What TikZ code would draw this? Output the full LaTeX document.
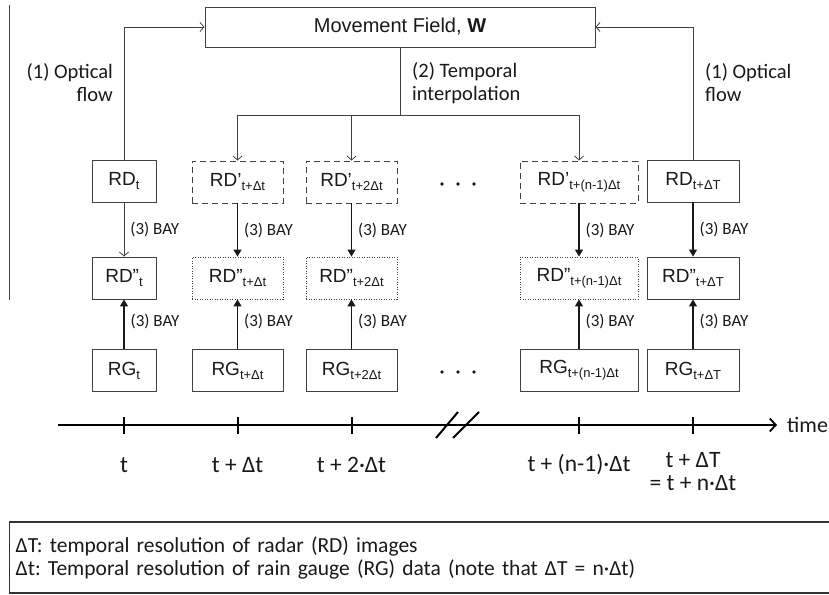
\documentclass[tikz,border=0pt]{standalone}
\usepackage{fontspec}
\setmainfont{Liberation Sans}
\newfontfamily\calib{Carlito}
\usetikzlibrary{arrows.meta}
\newcommand\mysub[1]{\raisebox{-4pt}{\fontsize{13}{13}\selectfont #1}}
\frenchspacing
\begin{document}
\begin{tikzpicture}[x=1pt,y=-1pt,
  box/.style={draw=black!75, line width=0.9pt, minimum height=42pt, inner sep=0pt, font=\fontsize{19}{19}\selectfont, text=black!90},
  dbox/.style={box, dash pattern=on 6pt off 4pt},
  obox/.style={box, line width=0.8pt, dash pattern=on 1pt off 1.5pt},
  thinarr/.style={draw=black!75, line width=0.8pt, -{Straight Barb[length=4pt,width=9pt]}},
  bayarr/.style={draw=black!90, line width=1.3pt, -{Triangle[length=7pt,width=8pt]}},
  lab/.style={font=\calib\fontsize{20.5}{23}\selectfont, text=black!90, inner sep=0pt},
  bay/.style={font=\calib\fontsize{17}{17}\selectfont, text=black!90, inner sep=0pt, right, xshift=6pt},
  tlab/.style={font=\calib\fontsize{23.5}{23}\selectfont, text=black!90, inner sep=0pt, align=center},
  dot/.style={circle, fill=black!90, inner sep=0pt, minimum size=3.6pt}
]
\useasboundingbox (0,0) rectangle (829,594);

% left vertical line
\draw[black!75, line width=1pt] (9,5) -- (9,300);

% movement field
\node[box, minimum width=390pt, minimum height=40pt, font=\fontsize{20}{20}\selectfont] (mf) at (400,27) {Movement Field, \textbf{W}};

% row 1
\node[box, minimum width=64pt] (a1) at (124,181) {RD\mysub{t}};
\node[dbox, minimum width=91pt] (a2) at (237.5,182) {RD’\mysub{t+Δt}};
\node[dbox, minimum width=91pt] (a3) at (351.5,182) {RD’\mysub{t+2Δt}};
\node[dbox, minimum width=118pt] (a4) at (579,182) {RD’\mysub{t+(n-1)Δt}};
\node[box, minimum width=92pt] (a5) at (693,181) {RD\mysub{t+ΔT}};

% row 2
\node[box, minimum width=64pt] (b1) at (124,278) {RD”\mysub{t}};
\node[obox, minimum width=91pt] (b2) at (237.5,278) {RD”\mysub{t+Δt}};
\node[obox, minimum width=91pt] (b3) at (351.5,278) {RD”\mysub{t+2Δt}};
\node[obox, minimum width=118pt] (b4) at (579,278) {RD”\mysub{t+(n-1)Δt}};
\node[box, minimum width=92pt] (b5) at (693,278) {RD”\mysub{t+ΔT}};

% row 3
\node[box, minimum width=64pt] (c1) at (124,370.5) {RG\mysub{t}};
\node[box, minimum width=91pt] (c2) at (237.5,370.5) {RG\mysub{t+Δt}};
\node[box, minimum width=91pt] (c3) at (351.5,370.5) {RG\mysub{t+2Δt}};
\node[box, minimum width=118pt] (c4) at (579,370.5) {RG\mysub{t+(n-1)Δt}};
\node[box, minimum width=92pt] (c5) at (693,370.5) {RG\mysub{t+ΔT}};

% dots
\node[dot] (d1) at (442,184) {};
\node[dot] (d2) at (458,184) {};
\node[dot] (d3) at (474,184) {};
\node[dot] (e1) at (442,372) {};
\node[dot] (e2) at (458,372) {};
\node[dot] (e3) at (474,372) {};

% optical flow
\draw[thinarr] (a1.north) |- (mf.west);
\draw[thinarr] (a5.north) |- (mf.east);
\node[lab, anchor=east, align=right] (of1) at (113,83) {(1) Optical\\flow};
\node[lab, anchor=west, align=left] (of2) at (705,83) {(1) Optical\\flow};

% temporal interpolation
\coordinate (split) at (400,115);
\draw[black!75, line width=0.8pt] (mf.south) -- (split);
\draw[thinarr] (split) -| (a2.north);
\draw[thinarr] (split) -| (a3.north);
\draw[thinarr] (split) -| (a4.north);
\node[lab, anchor=west, align=left] (ti) at (412,83) {(2) Temporal\\interpolation};

% BAY arrows
\draw[thinarr] (a1.south) -- node[bay] {(3) BAY} (b1.north);
\draw[bayarr] (a2.south) -- node[bay] {(3) BAY} (b2.north);
\draw[bayarr] (a3.south) -- node[bay] {(3) BAY} (b3.north);
\draw[bayarr] (a4.south) -- node[bay] {(3) BAY} (b4.north);
\draw[bayarr] (a5.south) -- node[bay] {(3) BAY} (b5.north);
\foreach \i in {1,...,5}{
  \draw[bayarr] (c\i.north) -- node[bay, yshift=3pt] {(3) BAY} (b\i.south);
}

% timeline
\coordinate (tl0) at (58,425);
\node[font=\calib\fontsize{22}{22}\selectfont, anchor=west, inner sep=0pt, text=black!90] (time) at (787,425) {time};
\draw[black, line width=2.4pt, -{Straight Barb[length=6pt,width=13pt,line width=1.8pt]}] (tl0) -- ([xshift=-10pt]time.west);
\foreach \x/\n in {124/1,237.5/2,351.5/3,579/4,693/5}{
  \coordinate (k\n) at (\x,425);
  \draw[black, line width=2pt] ([yshift=-8.5pt]k\n) -- ([yshift=8.5pt]k\n);
}
\draw[black, line width=2pt] (436,438) -- (458,412);
\draw[black, line width=2pt] (453,438) -- (479,412);

\node[tlab] (t1) at (124,465) {t};
\node[tlab] (t2) at (237.5,465) {t + Δt};
\node[tlab] (t3) at (351.5,465) {t + 2·Δt};
\node[tlab] (t4) at (579,465) {t + (n-1)·Δt};
\node[tlab, anchor=north] (t5) at (693,452) {t + ΔT\\= t + n·Δt};

% legend box
\node[draw=black!80, line width=1.4pt, anchor=west, minimum width=830pt, minimum height=71pt, inner xsep=5pt, text width=818pt, align=left, font=\calib\fontsize{21.5}{23}\selectfont, text=black!90] (legend) at (9,557.5)
 {ΔT: temporal resolution of radar (RD) images\\Δt: Temporal resolution of rain gauge (RG) data (note that ΔT = n·Δt)};
\end{tikzpicture}
\end{document}
